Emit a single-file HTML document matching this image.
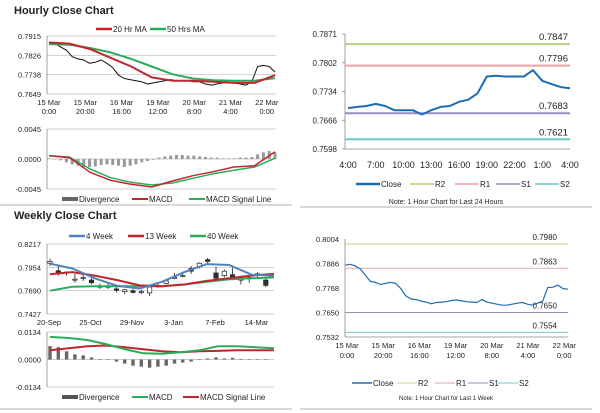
<!DOCTYPE html>
<html><head><meta charset="utf-8"><style>
html,body{margin:0;padding:0;background:#fff;}
svg{display:block;font-family:"Liberation Sans",sans-serif;}
</style></head><body>
<svg id="s" width="600" height="413" viewBox="0 0 600 413" xmlns="http://www.w3.org/2000/svg">
<text x="14" y="14" font-size="11" font-weight="bold" fill="#222">Hourly Close Chart</text>
<text x="14" y="219" font-size="11" font-weight="bold" fill="#222">Weekly Close Chart</text>
<line x1="0" y1="205" x2="292" y2="205" stroke="#999" stroke-width="0.8"/>
<line x1="300" y1="207" x2="592" y2="207" stroke="#999" stroke-width="0.8"/>
<line x1="0" y1="409" x2="292" y2="409" stroke="#999" stroke-width="0.8"/>
<line x1="300" y1="409" x2="592" y2="409" stroke="#999" stroke-width="0.8"/>
<g id="g"></g>
</svg>
<script>
// ---- Hourly close (top-left) ----
const hCloseVals=[.7885,.788,.7865,.785,.782,.781,.7805,.779,.7795,.7805,.779,.777,.7735,.772,.7715,.771,.7705,.7695,.770,.7705,.771,.7715,.771,.771,.771,.7705,.7705,.7695,.769,.7695,.770,.770,.770,.7695,.769,.7705,.7775,.778,.7775,.775];
const hMA20=[.7885,.788,.7855,.7815,.7775,.7725,.771,.771,.7705,.770,.770,.7735];
const hMA50=[.7878,.7875,.786,.784,.781,.7775,.774,.772,.7712,.771,.771,.7722];
const hYTicks=["0.7915","0.7826","0.7738","0.7649"];
const hXLabels=[["15 Mar","0:00"],["15 Mar","20:00"],["16 Mar","16:00"],["19 Mar","12:00"],["20 Mar","8:00"],["21 Mar","4:00"],["22 Mar","0:00"]];
const hMacd=[.0005,.0002,-.002,-.0032,-.0038,-.0042,-.0033,-.0025,-.0019,-.0012,-.001,.0011];
const hSignal=[.0005,.0003,-.0015,-.0028,-.0035,-.0039,-.0036,-.0029,-.0022,-.0017,-.0012,.0001];
const hDiv=[.0001,0,-.0002,-.0005,-.0008,-.001,-.0012,-.0012,-.0011,-.0009,-.0008,-.0009,-.001,-.0012,-.001,-.0008,-.0005,-.0003,-.0001,.0002,.0004,.0005,.0006,.0006,.0005,.0005,.0004,.0003,.0002,.0002,.0001,.0001,.0001,.0002,.0002,.0003,.0007,.001,.0012,.001];
const hMacdTicks=["0.0045","0.0000","-0.0045"];
// ---- 24h close (top-right) ----
const dCloseVals=[.7695,.7698,.770,.7705,.770,.769,.769,.769,.768,.769,.7698,.770,.771,.7715,.773,.777,.7772,.777,.777,.777,.7785,.776,.7752,.7745,.7742];
const dLevels=[.7847,.7796,.7683,.7621];
const dLevelLabels=["0.7847","0.7796","0.7683","0.7621"];
const dYTicks=["0.7871","0.7802","0.7734","0.7666","0.7598"];
const dXLabels=["4:00","7:00","10:00","13:00","16:00","19:00","22:00","1:00","4:00"];
// ---- Weekly (bottom-left) ----
const wOpen=[.800,.7915,.789,.782,.784,.781,.774,.774,.771,.768,.769,.767,.7665,.775,.777,.784,.786,.794,.796,.804,.789,.786,.787,.782,.784,.788,.781];
const wClose=[.802,.788,.790,.782,.784,.778,.774,.774,.7695,.770,.767,.768,.773,.775,.780,.784,.786,.791,.800,.802,.783,.791,.783,.782,.784,.788,.775];
const wHigh=[.805,.798,.791,.788,.789,.786,.777,.777,.773,.771,.771,.770,.774,.778,.782,.789,.789,.797,.801,.806,.796,.793,.795,.786,.786,.790,.783];
const wLow=[.797,.786,.786,.778,.780,.776,.771,.771,.767,.765,.766,.765,.763,.772,.776,.782,.784,.788,.794,.800,.781,.784,.781,.776,.778,.784,.773];
const w4=[.7995,.794,.783,.7745,.7715,.779,.790,.799,.798,.787,.786];
const w13=[.7875,.790,.786,.781,.775,.774,.776,.780,.783,.786,.788];
const w40=[.769,.7735,.774,.774,.774,.774,.776,.779,.782,.783,.784];
const wYTicks=["0.8217","0.7954","0.7690","0.7427"];
const wXLabels=["20-Sep","25-Oct","29-Nov","3-Jan","7-Feb","14-Mar"];
const wMacd=[.011,.0105,.0095,.0075,.005,.003,.0028,.0035,.0045,.0065,.0065,.006,.0055];
const wSignal=[.0045,.0055,.0065,.0068,.006,.005,.004,.0035,.004,.0042,.0045,.0045,.0045];
const wDiv=[.0065,.006,.004,.0025,.002,.001,.0002,0,-.001,-.002,-.003,-.0035,-.004,-.0035,-.003,-.002,-.0015,-.001,0,.0005,.001,.0005,.0008,.0003,.0002,.0002,.0001];
const wMacdTicks=["0.0134","0.0000","-0.0134"];
// ---- 1 week close (bottom-right) ----
const kCloseVals=[.7878,.7882,.7875,.786,.783,.780,.7795,.7785,.779,.7795,.779,.7765,.773,.7715,.7712,.7705,.770,.7692,.7698,.770,.7702,.7708,.771,.7706,.7702,.770,.7698,.7712,.770,.7695,.769,.7685,.7685,.769,.7695,.7698,.7690,.7685,.7695,.7705,.777,.7772,.7782,.7765,.7762];
const kLevels=[.7980,.7863,.7650,.7554];
const kLevelLabels=["0.7980","0.7863","0.7650","0.7554"];
const kYTicks=["0.8004","0.7886","0.7768","0.7650","0.7532"];
const kXLabels=[["15 Mar","0:00"],["15 Mar","20:00"],["16 Mar","16:00"],["19 Mar","12:00"],["20 Mar","8:00"],["21 Mar","4:00"],["22 Mar","0:00"]];

const NS="http://www.w3.org/2000/svg";
const G=document.getElementById('g');
function el(tag,attrs,parent){const e=document.createElementNS(NS,tag);for(const k in attrs)e.setAttribute(k,attrs[k]);(parent||G).appendChild(e);return e;}
function txt(x,y,s,size,anchor,fill){const t=el('text',{x:x,y:y,'font-size':size,'text-anchor':anchor||'start',fill:fill||'#222'});t.textContent=s;return t;}
function lin(a,b,c,d){return v=>c+(v-a)/(b-a)*(d-c);}
function poly(vals,xf,yf,color,w,name){
  const p=vals.map((v,i)=>xf(i).toFixed(1)+','+yf(v).toFixed(1)).join(' ');
  const e=el('polyline',{points:p,fill:'none',stroke:color,'stroke-width':w,'stroke-linejoin':'round'});
  
  
  return e;
}
function frameLeft(x0,x1,y0,y1,gridYs){
  gridYs.forEach(y=>{const l=el('line',{x1:x0,y1:y,x2:x1,y2:y,stroke:'#bbb','stroke-width':0.7});});
  const a=el('line',{x1:x0,y1:y0,x2:x0,y2:y1,stroke:'#888','stroke-width':0.8});
  
  
}
function legendItem(x,y,color,label,w,thick){
  const l=el('line',{x1:x,y1:y,x2:x+w,y2:y,stroke:color,'stroke-width':thick});
  
  
  const t=txt(x+w+1,y+3,label,8);
  
  
}

// ===== Hourly close top-left =====
(function(){
  const x0=47,x1=276,yT=36,yB=94;
  const yf=lin(0.7915,0.7649,yT,yB);
  frameLeft(x0,x1,yT,yB,[36,55.3,74.7,94]);
  hYTicks.forEach((s,i)=>{const t=txt(41,yT+i*(yB-yT)/3+3,s,7.5,'end');});
  hXLabels.forEach((s,i)=>{const x=x0+2+i*36.3;const a=txt(x,105,s[0],7.5,'middle');txt(x,114,s[1],7.5,'middle');});
  legendItem(96,29,'#c0272d','20 Hr MA',16,2.5);
  legendItem(150,29,'#2eaa5c','50 Hrs MA',16,2.5);
  const xc=i=>49+i*(226/(hCloseVals.length-1));
  poly(hCloseVals,xc,yf,'#111',1,'hourly-close-line');
  const xm=i=>49+i*(226/(hMA20.length-1));
  poly(hMA50,xm,yf,'#2eaa5c',2,'ma50-line');
  poly(hMA20,xm,yf,'#c0272d',2,'ma20-line');
  // macd panel
  const my=lin(0.0045,-0.0045,129,189);
  frameLeft(x0,x1,129,189,[129,159,189]);
  hMacdTicks.forEach((s,i)=>{const t=txt(41,129+i*30+3,s,7.5,'end');});
  const xd=i=>49+i*(226/(hDiv.length-1));
  hDiv.forEach((v,i)=>{const y=Math.min(my(v),my(0));const b=el('rect',{x:xd(i)-1.5,y:y,width:3,height:Math.max(0.5,Math.abs(my(v)-my(0))),fill:'#999'});});
  poly(hSignal,xm,my,'#2eaa5c',1.5,'macd-signal-line');
  poly(hMacd,xm,my,'#c0272d',1.5,'macd-line');
  legendItem(62,199,'#666','Divergence',16,4);
  legendItem(132,199,'#c0272d','MACD',16,2);
  legendItem(189,199,'#2eaa5c','MACD Signal Line',16,2);
})();

// ===== 24h top-right =====
(function(){
  const x0=345,x1=570,yT=34,yB=149;
  const yf=lin(0.7871,0.7598,yT,yB);
  const ax=el('line',{x1:x0,y1:yT,x2:x0,y2:yB,stroke:'#888','stroke-width':0.8});
  const bx=el('line',{x1:x0,y1:yB,x2:x1,y2:yB,stroke:'#888','stroke-width':0.8});
  dYTicks.forEach((s,i)=>{const y=yT+i*(yB-yT)/4;const t=txt(337,y+3,s,8,'end');el('line',{x1:x0-3,y1:y,x2:x0,y2:y,stroke:'#888','stroke-width':0.8});});
  const cols=['#b5cf7b','#ee9fa0','#9c8cc0','#6fc7c9'];
  const names=['r2-level','r1-level','s1-level','s2-level'];
  dLevels.forEach((v,i)=>{const l=el('line',{x1:x0,y1:yf(v),x2:x1,y2:yf(v),stroke:cols[i],'stroke-width':2});const t=txt(568,yf(v)-4,dLevelLabels[i],9.5,'end');});
  const xs=i=>348+i*(222/(dCloseVals.length-1));
  poly(dCloseVals,xs,yf,'#1f6cb0',2,'close-24h-line');
  dXLabels.forEach((s,i)=>{const t=txt(348+i*27.75,168,s,9,'middle');});
  legendItem(356,184,'#1f6cb0','Close',24,2.5);
  legendItem(410,184,'#b5cf7b','R2',24,1.5);
  legendItem(455,184,'#ee9fa0','R1',24,1.5);
  legendItem(496,184,'#9c8cc0','S1',24,1.5);
  legendItem(535,184,'#6fc7c9','S2',24,1.5);
  const n=txt(446,204,'Note: 1 Hour Chart for Last 24 Hours',7,'middle');
})();

// ===== Weekly bottom-left =====
(function(){
  const x0=47,x1=274,yT=244,yB=314;
  const yf=lin(0.8217,0.7427,yT,yB);
  frameLeft(x0,x1,yT,yB,[244,267.3,290.7,314]);
  wYTicks.forEach((s,i)=>{const t=txt(41,yT+i*(yB-yT)/3+3,s,7.5,'end');});
  const xc=i=>50+i*8.3;
  wXLabels.forEach((s,i)=>{const t=txt(50+i*5*8.3-1,325,s,7.5,'middle');});
  legendItem(69,236,'#4f81bd','4 Week',16,2.5);
  legendItem(128,236,'#c0272d','13 Week',16,2.5);
  legendItem(190,236,'#2eaa5c','40 Week',16,2.5);
  wOpen.forEach((o,i)=>{
    const c=wClose[i],x=xc(i);
    const w=el('line',{x1:x,y1:yf(wHigh[i]),x2:x,y2:yf(wLow[i]),stroke:'#222','stroke-width':0.8});
    const top=yf(Math.max(o,c)),h=Math.max(1,Math.abs(yf(o)-yf(c)));
    const r=el('rect',{x:x-2.2,y:top,width:4.4,height:h,fill:c>=o?'#fff':'#333',stroke:'#222','stroke-width':0.7});
  });
  const xm=i=>50+i*(224/(w4.length-1));
  poly(w40,xm,yf,'#2eaa5c',2,'ma40w-line');
  poly(w13,xm,yf,'#c0272d',2,'ma13w-line');
  poly(w4,xm,yf,'#4f81bd',2,'ma4w-line');
  // macd
  const my=lin(0.0134,-0.0134,332,387);
  frameLeft(x0,x1,332,387,[332,359.5,387]);
  wMacdTicks.forEach((s,i)=>{const t=txt(41,332+i*27.5+3,s,7.5,'end');});
  wDiv.forEach((v,i)=>{const y=Math.min(my(v),my(0));const b=el('rect',{x:xc(i)-1.7,y:y,width:3.4,height:Math.max(0.5,Math.abs(my(v)-my(0))),fill:'#666'});});
  const xw=i=>50+i*(224/(wMacd.length-1));
  poly(wSignal,xw,my,'#c0272d',2,'macd-signal-line');
  poly(wMacd,xw,my,'#2eaa5c',2,'macd-line');
  legendItem(62,397,'#555','Divergence',16,4);
  legendItem(132,397,'#2eaa5c','MACD',16,2);
  legendItem(183,397,'#c0272d','MACD Signal Line',16,2);
})();

// ===== 1 week bottom-right =====
(function(){
  const x0=345,x1=568,yT=239,yB=337;
  const yf=lin(0.8004,0.7532,yT,yB);
  const ax=el('line',{x1:x0,y1:yT,x2:x0,y2:yB,stroke:'#888','stroke-width':0.8});
  const bx=el('line',{x1:x0,y1:yB,x2:x1,y2:yB,stroke:'#888','stroke-width':0.8});
  kYTicks.forEach((s,i)=>{const y=yT+i*(yB-yT)/4;const t=txt(339,y+3,s,7.5,'end');});
  const cols=['#c3cf8f','#e2a9a9','#9a8bb8','#79c8cc'];
  const names=['r2-level','r1-level','s1-level','s2-level'];
  kLevels.forEach((v,i)=>{const l=el('line',{x1:x0,y1:yf(v),x2:x1,y2:yf(v),stroke:cols[i],'stroke-width':1});const t=txt(557,yf(v)-4,kLevelLabels[i],8,'end');});
  const xs=i=>345+i*(223/(kCloseVals.length-1));
  poly(kCloseVals,xs,yf,'#1f6cb0',1.2,'close-1w-line');
  kXLabels.forEach((s,i)=>{const x=347+i*36.2;const a=txt(x,348,s[0],7.5,'middle');txt(x,358,s[1],7.5,'middle');});
  legendItem(352,383,'#1f6cb0','Close',20,1.5);
  legendItem(397,383,'#c3cf8f','R2',20,1);
  legendItem(435,383,'#e2a9a9','R1',20,1);
  legendItem(468,383,'#9a8bb8','S1',20,1);
  legendItem(498,383,'#79c8cc','S2',20,1);
  const n=txt(446,400,'Note: 1 Hour Chart for Last 1 Week',6,'middle');
})();
</script>
</body></html>
